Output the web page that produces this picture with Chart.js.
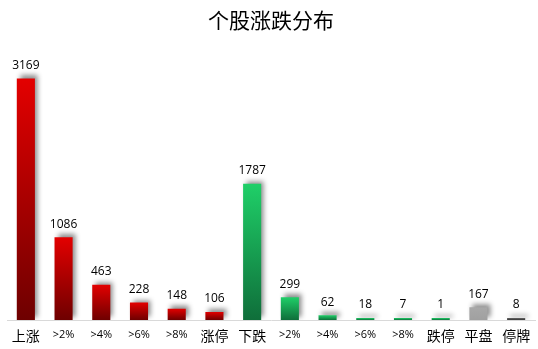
<!DOCTYPE html>
<html>
<head>
<meta charset="utf-8">
<script src="https://cdn.jsdelivr.net/npm/chart.js@4.4.0/dist/chart.umd.min.js"></script>
<style>
  body { margin: 0; background: #fff; }
  #wrap { width: 538px; height: 349px; position: relative; }
</style>
</head>
<body>
<div id="wrap"><canvas id="stockChart"></canvas></div>
<script>
try {

    // Chart data
    const categories = ['上涨', '>2%', '>4%', '>6%', '>8%', '涨停', '下跌', '>2%', '>4%', '>6%', '>8%', '跌停', '平盘', '停牌'];
    const counts = [3169, 1086, 463, 228, 148, 106, 1787, 299, 62, 18, 7, 1, 167, 8];
    const groups = ['up', 'up', 'up', 'up', 'up', 'up', 'down', 'down', 'down', 'down', 'down', 'down', 'flat', 'halt'];

    const gradientStops = {
      up: ['#e30000', '#6e0000'],
      down: ['#1fcf68', '#0f6e3a'],
      flat: ['#a8a8a8', '#a0a0a0'],
      halt: ['#666666', '#333333']
    };

    // Per-bar vertical gradient
    function barColor(context) {
      const chart = context.chart;
      const yScale = chart.scales.y;
      if (!yScale || !chart.chartArea) return gradientStops.up[0];
      const i = context.dataIndex;
      const stops = gradientStops[groups[i]];
      const top = Math.min(yScale.getPixelForValue(counts[i]), yScale.getPixelForValue(0) - 2);
      const bottom = yScale.getPixelForValue(0);
      const g = chart.ctx.createLinearGradient(0, top, 0, bottom);
      g.addColorStop(0, stops[0]);
      g.addColorStop(1, stops[1]);
      return g;
    }

    // Soft shadow behind bars
    const shadowPlugin = {
      id: 'barShadow',
      beforeDatasetsDraw(chart) {
        const ctx = chart.ctx;
        ctx.save();
        ctx.shadowColor = 'rgba(0,0,0,0.45)';
        ctx.shadowBlur = 5;
        ctx.shadowOffsetX = 3;
        ctx.shadowOffsetY = -3;
      },
      afterDatasetsDraw(chart) {
        chart.ctx.restore();
      }
    };

    // Value labels above bars
    const valueLabels = {
      id: 'valueLabels',
      afterDatasetsDraw(chart) {
        const ctx = chart.ctx;
        const meta = chart.getDatasetMeta(0);
        ctx.save();
        ctx.font = '12px "Open Sans", sans-serif';
        ctx.fillStyle = '#000';
        ctx.textAlign = 'center';
        ctx.textBaseline = 'bottom';
        meta.data.forEach((bar, i) => {
          ctx.fillText(String(counts[i]), bar.x, bar.y - 7);
        });
        ctx.restore();
      }
    };

    const ctx = document.getElementById('stockChart').getContext('2d');
    new Chart(ctx, {
      type: 'bar',
      data: {
        labels: categories,
        datasets: [{
          data: counts,
          backgroundColor: barColor,
          minBarLength: 2,
          barPercentage: 1,
          categoryPercentage: 0.48
        }]
      },
      options: {
        responsive: true,
        maintainAspectRatio: false,
        animation: false,
        layout: { padding: { left: 7, right: 3, top: 0, bottom: 0 } },
        plugins: {
          legend: { display: false },
          tooltip: { enabled: false },
          title: {
            display: true,
            text: '个股涨跌分布',
            color: '#000',
            font: { family: '"Noto Sans CJK SC"', size: 21, weight: 'normal' },
            padding: { top: 7, bottom: 21 }
          }
        },
        scales: {
          x: {
            grid: { display: false },
            border: { color: '#d9d9d9' },
            afterFit(scale) { scale.height = 29; },
            ticks: {
              color: '#000',
              padding: 0,
              maxRotation: 0,
              autoSkip: false,
              font: (c) => {
                const label = categories[c.index] || '';
                return label.includes('%')
                  ? { family: '"Open Sans", sans-serif', size: 11 }
                  : { family: '"Noto Sans CJK SC"', size: 14, lineHeight: 1.1 };
              }
            }
          },
          y: {
            display: false,
            min: 0,
            max: 3500
          }
        }
      },
      plugins: [shadowPlugin, valueLabels]
    });

} catch (e) {
    console.log(e);
}
</script>
</body>
</html>
